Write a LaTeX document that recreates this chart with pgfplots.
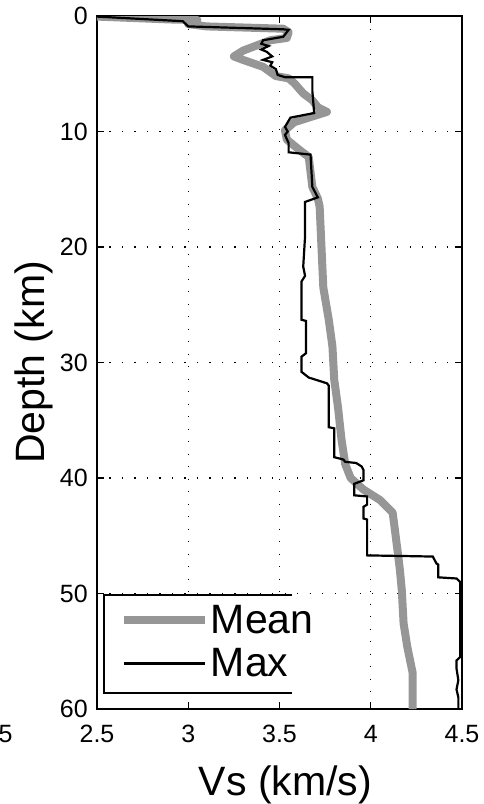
\documentclass[border=0pt]{standalone}
\usepackage{fontspec}
\setmainfont{Liberation Sans}
\usepackage{pgfplots}
\pgfplotsset{compat=1.18}
\definecolor{meangray}{RGB}{150,150,150}

\newcommand{\tickfont}{\fontsize{25}{25}\selectfont}
\newcommand{\labelfont}{\fontsize{41}{41}\selectfont}

\begin{document}
\begin{tikzpicture}
\path[use as bounding box] (0,0) rectangle (484pt,804pt);
\begin{axis}[
  at={(97pt,95pt)}, anchor=south west,
  scale only axis, width=365pt, height=693pt,
  xmin=2.5, xmax=4.5, ymin=0, ymax=60, y dir=reverse,
  xtick={2.5,3,3.5,4,4.5}, ytick={0,10,20,30,40,50,60},
  xticklabels={2.5,3,3.5,4,4.5},
  /pgf/number format/assume math mode=true,
  grid=major,
  major grid style={black, line width=1.3pt, dash pattern=on 1.3pt off 11.2pt},
  tick align=inside, major tick length=7pt,
  tick style={black, line width=1.2pt},
  axis line style={line width=1.5pt},
  ticklabel style={font=\tickfont, inner sep=0pt},
  xticklabel shift=16pt, yticklabel shift=9pt,
  xlabel={Vs (km/s)}, ylabel={Depth (km)},
  label style={font=\labelfont},
  xlabel style={at={(axis description cs:0.5164,-0.1241)}, anchor=base},
  ylabel style={at={(axis description cs:-0.1425,0.5)}, anchor=base},
  legend style={draw=none, fill=none, inner sep=0pt, outer sep=0pt,
    at={(axis cs:2.626,50.82)}, anchor=north west,
    font=\labelfont, cells={anchor=west}, row sep=10pt,
    /tikz/every even column/.style={column sep=2pt}},
  legend image code/.code={\draw[#1] (0pt,0pt) -- (81pt,0pt);},
]
% white legend panel, open on its right side
\fill[white] (axis cs:2.538,50.13) rectangle (axis cs:3.568,58.61);
\draw[line width=1.3pt] (axis cs:3.568,50.13) -- (axis cs:2.538,50.13)
  -- (axis cs:2.538,58.61) -- (axis cs:3.568,58.61);

\addplot[meangray, line width=8pt, line join=round, line cap=butt] coordinates {
(2.50,0.05) (2.90,0.3) (3.05,0.35) (3.00,0.7) (3.10,0.9) (3.52,1.1)
(3.55,1.4) (3.54,1.9) (3.45,2.1) (3.30,3.0) (3.25,3.5) (3.30,3.8)
(3.41,4.4) (3.48,5.2) (3.55,5.4) (3.58,5.8) (3.63,6.7) (3.68,7.3)
(3.71,7.9) (3.76,8.3) (3.68,8.7) (3.58,9.2) (3.53,9.9) (3.54,10.7)
(3.61,11.6) (3.66,12.2) (3.68,14.8) (3.71,15.8) (3.72,16.5) (3.73,20.0)
(3.74,23.5) (3.77,26.3) (3.79,28.6) (3.80,31.5) (3.82,33.8) (3.84,36.7)
(3.86,38.8) (3.89,40.0) (3.96,41.0) (4.05,41.9) (4.12,43.0) (4.13,44.2)
(4.15,46.7) (4.16,48.0) (4.17,49.7) (4.18,52.6) (4.20,54.6) (4.23,56.9)
(4.23,60.0)
};
\addlegendentry{Mean}

\addplot[black, line width=2.2pt, line join=miter] coordinates {
(2.50,0.05) (2.97,0.45) (3.00,0.9) (3.52,1.15) (3.55,1.2) (3.53,1.6)
(3.52,1.8) (3.41,2.1) (3.40,2.4) (3.44,2.6) (3.40,2.9) (3.43,3.1)
(3.46,3.5) (3.41,3.8) (3.46,4.0) (3.45,4.3) (3.48,4.6) (3.49,5.1)
(3.53,5.3) (3.68,5.3) (3.68,6.5) (3.69,8.4) (3.56,8.8) (3.53,9.6)
(3.545,10.0) (3.53,10.3) (3.55,11.0) (3.55,11.8) (3.67,12.0) (3.68,14.8)
(3.71,15.7) (3.64,16.1) (3.64,19.1) (3.63,21.7) (3.64,22.5) (3.62,23.0)
(3.62,26.3) (3.645,26.4) (3.645,29.2) (3.62,29.5) (3.62,30.8) (3.66,31.3)
(3.72,31.6) (3.76,31.8) (3.77,32.0) (3.77,35.6) (3.80,35.7) (3.80,38.2)
(3.85,38.4) (3.86,38.6) (3.92,38.7) (3.95,39.0) (3.96,39.3) (3.96,40.2)
(3.91,40.5) (3.91,41.5) (3.98,41.6) (3.98,42.3) (3.96,42.5) (3.96,43.5)
(3.98,43.6) (3.98,46.7) (4.34,46.8) (4.36,47.4) (4.37,47.5) (4.37,48.6)
(4.47,48.7) (4.49,49.0) (4.49,55.5) (4.47,55.8) (4.47,56.5) (4.48,57.5)
(4.47,58.3) (4.48,59.0) (4.48,60.0)
};
\addlegendentry{Max}
\end{axis}
% last digit of the neighbouring panel's tick label at the left edge
\node[anchor=north west, inner sep=0pt, font=\tickfont] at (-1.5pt,79pt) {5};
\end{tikzpicture}
\end{document}
